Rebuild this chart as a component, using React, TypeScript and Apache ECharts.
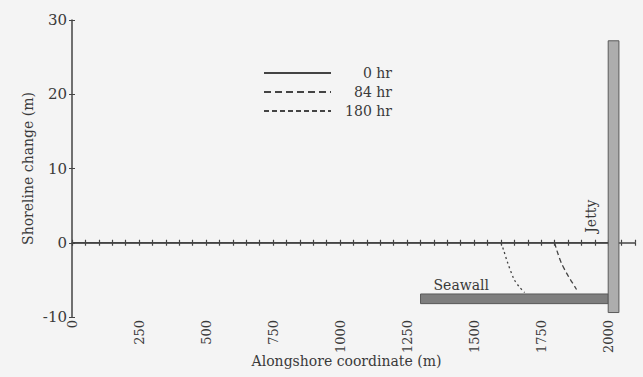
import React, { useEffect, useRef } from "react";
import * as echarts from "echarts";

// Shoreline evolution series (alongshore m, shoreline change m)
const seriesNames = ["0 hr", "84 hr", "180 hr"];
const line0X = [0, 2000];
const line0Y = [0, 0];
const line84X = [1800, 1810, 1825, 1848, 1865, 1882];
const line84Y = [0, -1.2, -2.7, -4.3, -5.3, -6.3];
const line180X = [1600, 1610, 1625, 1650, 1670, 1688];
const line180Y = [0, -1.0, -2.7, -5.0, -6.0, -6.7];

// Coastal structures: [x start, x end, y bottom, y top]
const structureNames = ["Seawall", "Jetty"];
const structX0 = [1300, 2000];
const structX1 = [2000, 2040];
const structY0 = [-8.2, -9.4];
const structY1 = [-6.9, 27.2];

// Axis ticks
const xMin = 0;
const xMax = 2100;
const xLabelStep = 250;
const xTickStep = 50;
const yMin = -10;
const yMax = 30;
const yStep = 10;

const FONT = "'DejaVu Serif', 'Liberation Serif', serif";
const TEXT = "#3a3a3a";
const AXIS = "#444";

const zip = (xs: number[], ys: number[]) => xs.map((x, i) => [x, ys[i]]);

export default function App() {
  const ref = useRef<HTMLDivElement>(null);
  useEffect(() => {
    if (!ref.current) return;
    const chart = echarts.init(ref.current, undefined, { renderer: "svg" });
    const structColors = ["#7e7e7e", "#adadad"];
    const option: any = {
      animation: false,
      backgroundColor: "#f4f4f4",
      textStyle: { fontFamily: FONT, color: TEXT },
      grid: {
        left: 72,
        right: 8,
        top: 20,
        bottom: 60,
        containLabel: false,
        outerBoundsMode: "none",
      },
      legend: {
        orient: "vertical",
        left: 258,
        top: 61,
        itemWidth: 67,
        itemHeight: 14,
        itemGap: 5,
        selectedMode: false,
        itemStyle: { opacity: 0 },
        data: [
          { name: seriesNames[0] },
          { name: seriesNames[1], lineStyle: { type: [7, 4] } },
          { name: seriesNames[2], lineStyle: { type: [5, 3] } },
        ],
        formatter: (n: string) => "{r|" + n + "}",
        textStyle: {
          fontFamily: FONT,
          fontSize: 14,
          color: TEXT,
          rich: { r: { width: 56, align: "right", fontFamily: FONT, fontSize: 14, color: TEXT } },
        },
      },
      xAxis: [
        {
          type: "value",
          position: "bottom",
          min: xMin,
          max: xMax,
          interval: xLabelStep,
          axisLine: { show: false, onZero: false },
          axisTick: { show: false },
          splitLine: { show: false },
          axisLabel: {
            rotate: 90,
            showMaxLabel: false,
            fontSize: 13,
            fontFamily: FONT,
            color: TEXT,
            margin: 3,
            formatter: (v: number) => String(v),
          },
          name: "Alongshore coordinate (m)",
          nameLocation: "middle",
          nameGap: 37,
          nameMoveOverlap: false,
          nameTextStyle: { fontSize: 14, fontFamily: FONT, color: TEXT, padding: [0, 14, 0, 0] },
        },
        {
          type: "value",
          position: "bottom",
          min: xMin,
          max: xMax,
          interval: xTickStep,
          axisLine: { show: true, onZero: true, lineStyle: { color: AXIS, width: 1.5 } },
          axisTick: { show: true, length: 3, lineStyle: { color: AXIS, width: 1.2 } },
          axisLabel: { show: false },
          splitLine: { show: false },
        },
        {
          type: "value",
          position: "bottom",
          min: xMin,
          max: xMax,
          interval: xTickStep,
          axisLine: { show: false, onZero: true },
          axisTick: { show: true, inside: true, length: 3, lineStyle: { color: AXIS, width: 1.2 } },
          axisLabel: { show: false },
          splitLine: { show: false },
        },
      ],
      yAxis: [
        {
          type: "value",
          position: "left",
          min: yMin,
          max: yMax,
          interval: yStep,
          axisLine: { show: true, onZero: false, lineStyle: { color: AXIS, width: 1.5 } },
          axisTick: { show: true, length: 3, lineStyle: { color: AXIS } },
          splitLine: { show: false },
          axisLabel: { fontSize: 15, fontFamily: FONT, color: TEXT, margin: 5 },
          name: "Shoreline change (m)",
          nameLocation: "middle",
          nameGap: 37,
          nameMoveOverlap: false,
          nameTextStyle: { fontSize: 14, fontFamily: FONT, color: TEXT },
        },
        {
          type: "value",
          position: "left",
          min: yMin,
          max: yMax,
          interval: yStep,
          axisLine: { show: false, onZero: false },
          axisTick: { show: true, inside: true, length: 3, lineStyle: { color: AXIS } },
          axisLabel: { show: false },
          splitLine: { show: false },
        },
      ],
      series: [
        {
          type: "custom",
          name: "structures",
          xAxisIndex: 0,
          yAxisIndex: 0,
          clip: false,
          z: 1,
          data: structureNames.map((n, i) => [structX0[i], structX1[i], structY0[i], structY1[i], i]),
          renderItem: (params: any, api: any) => {
            const i = api.value(4);
            const tl = api.coord([api.value(0), api.value(3)]);
            const br = api.coord([api.value(1), api.value(2)]);
            const zeroY = api.coord([api.value(0), 0])[1];
            const rect = {
              type: "rect",
              shape: { x: tl[0], y: tl[1], width: br[0] - tl[0], height: br[1] - tl[1] },
              style: { fill: structColors[i], stroke: "#5a5a5a", lineWidth: 1 },
            };
            const text =
              i === 0
                ? {
                    type: "text",
                    x: tl[0] + 13,
                    y: tl[1] - 2,
                    style: {
                      text: structureNames[i],
                      align: "left",
                      verticalAlign: "bottom",
                      font: "14px " + FONT,
                      fill: TEXT,
                    },
                  }
                : {
                    type: "text",
                    x: tl[0] - 17,
                    y: zeroY - 10,
                    rotation: Math.PI / 2,
                    style: {
                      text: structureNames[i],
                      align: "left",
                      verticalAlign: "middle",
                      font: "14px " + FONT,
                      fill: TEXT,
                    },
                  };
            return { type: "group", children: [rect, text] };
          },
        },
        {
          type: "line",
          name: seriesNames[0],
          xAxisIndex: 0,
          yAxisIndex: 0,
          data: zip(line0X, line0Y),
          symbol: "none",
          z: 3,
          lineStyle: { color: AXIS, width: 1.5, type: "solid" },
          itemStyle: { color: AXIS },
        },
        {
          type: "line",
          name: seriesNames[1],
          xAxisIndex: 0,
          yAxisIndex: 0,
          data: zip(line84X, line84Y),
          symbol: "none",
          smooth: 0.3,
          z: 3,
          lineStyle: { color: AXIS, width: 1.3, type: [5, 3] },
          itemStyle: { color: AXIS },
        },
        {
          type: "line",
          name: seriesNames[2],
          xAxisIndex: 0,
          yAxisIndex: 0,
          data: zip(line180X, line180Y),
          symbol: "none",
          smooth: 0.3,
          z: 3,
          lineStyle: { color: AXIS, width: 1.3, type: [2, 3] },
          itemStyle: { color: AXIS },
        },
      ],
    };
    chart.setOption(option);
    return () => chart.dispose();
  }, []);
  return (
    <div
      ref={ref}
      style={{ position: "absolute", left: 0, top: 0, width: 643, height: 377 }}
    />
  );
}
